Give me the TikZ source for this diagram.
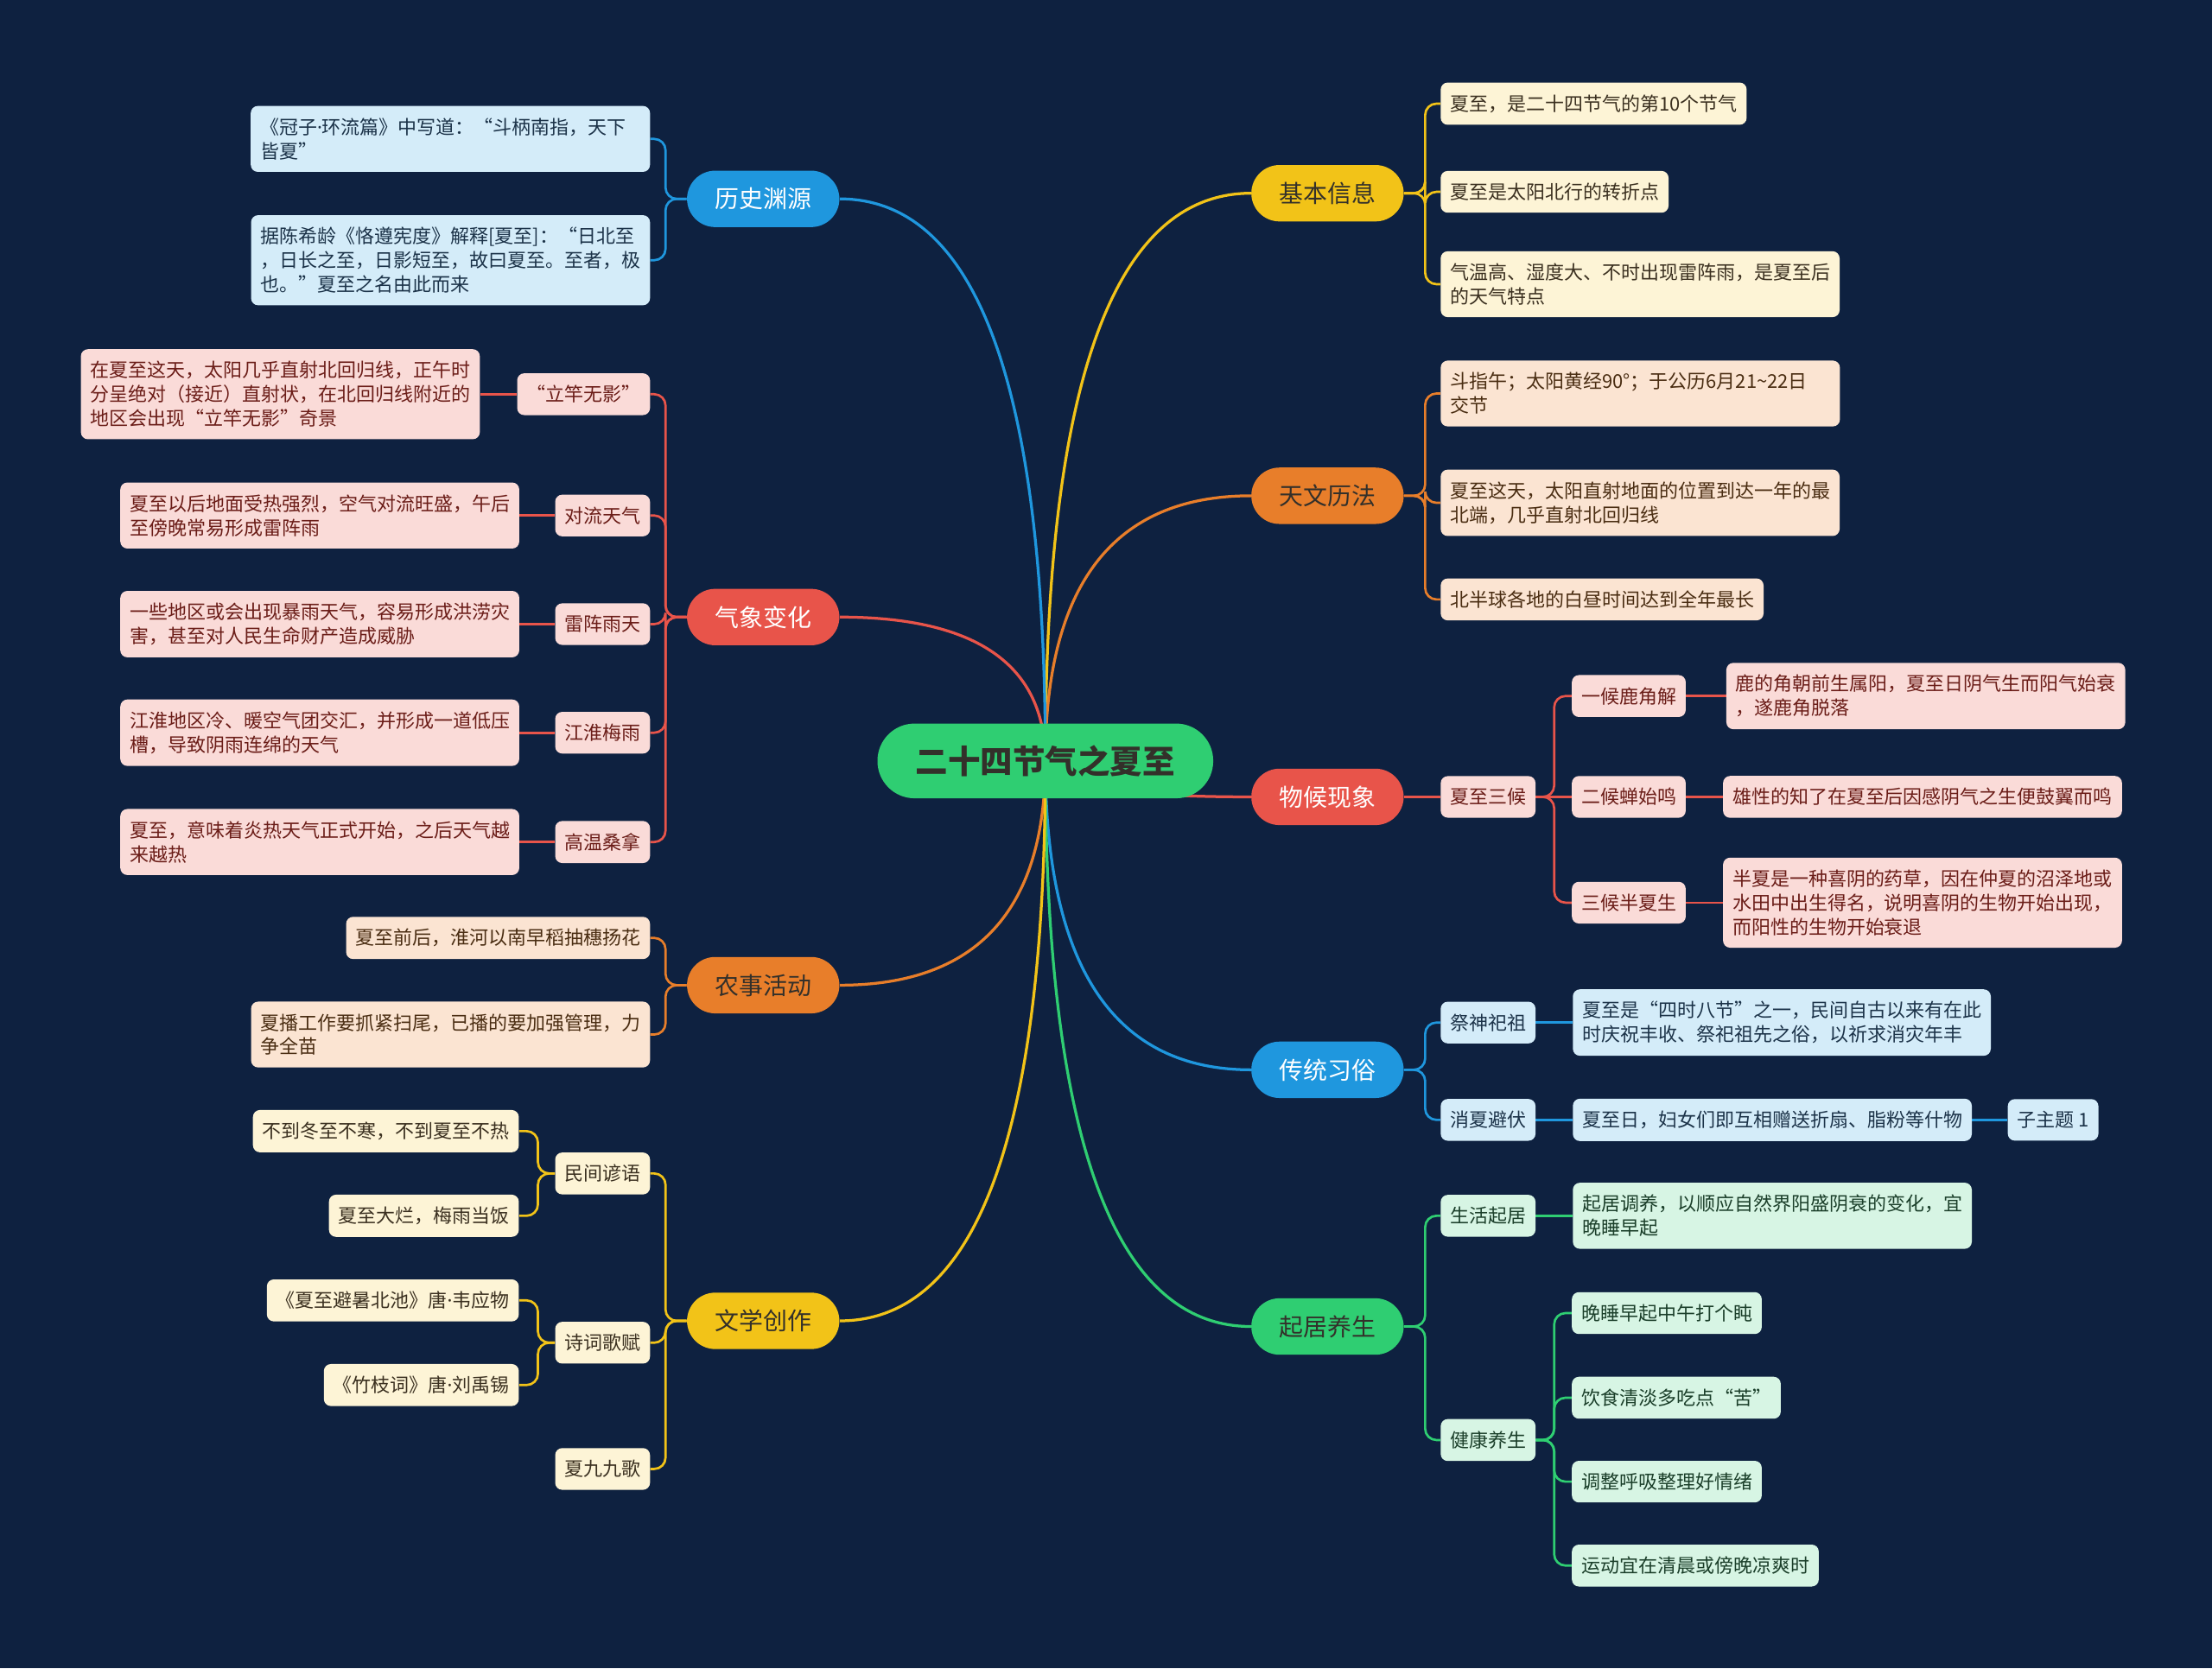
\documentclass[tikz,border=0pt]{standalone}
\usepackage{fontspec}
\setmainfont{Noto Sans CJK SC}
\newfontfamily\latinfont{Noto Sans}
\usetikzlibrary{positioning,calc}

\definecolor{navy}{HTML}{0E2140}
\definecolor{cblue}{HTML}{1F97DE}
\definecolor{cred}{HTML}{E8544A}
\definecolor{corange}{HTML}{E87E2A}
\definecolor{cyellow}{HTML}{F2C318}
\definecolor{cgreen}{HTML}{2FCE72}
\definecolor{inkdark}{HTML}{33302A}

\newcommand{\mdot}{{\latinfont ·}}

\pgfdeclarelayer{bg}
\pgfsetlayers{bg,main}

\tikzset{
	rootnode/.style={fill=cgreen,text=inkdark,rounded corners=7.9mm,minimum width=71.4mm,minimum height=15.9mm,font=\fontsize{19.6}{22}\selectfont\bfseries},
	mainbranch/.style={rounded corners=6mm,minimum width=32.4mm,minimum height=12mm,font=\fontsize{14.6}{17}\selectfont},
	leafbox/.style={rounded corners=1.5mm,inner xsep=2mm,inner ysep=2.57mm,align=left,font=\fontsize{11.5}{14.6}\selectfont},
	yleaf/.style={leafbox,fill={rgb,255:red,253;green,244;blue,214},text={rgb,255:red,59;green,48;blue,32}},
	oleaf/.style={leafbox,fill={rgb,255:red,251;green,228;blue,210},text={rgb,255:red,74;green,45;blue,18}},
	rleaf/.style={leafbox,fill={rgb,255:red,250;green,219;blue,216},text={rgb,255:red,107;green,29;blue,24}},
	bleaf/.style={leafbox,fill={rgb,255:red,212;green,236;blue,249},text={rgb,255:red,28;green,51;blue,73}},
	gleaf/.style={leafbox,fill={rgb,255:red,215;green,245;blue,228},text={rgb,255:red,27;green,63;blue,42}},
	wire/.style={line width=1.7pt},
	twig/.style={line width=1.4pt,rounded corners=2.4mm},
}

\begin{document}
\begin{tikzpicture}[x=0.3mm,y=-0.3mm]
	\begin{pgfonlayer}{bg}
	\fill[navy] (0,0) rectangle (1568,1183);
	\end{pgfonlayer}
	\useasboundingbox (0,0) rectangle (1568,1183);
	
	%ROOT
	\node[rootnode] (root) at (741,539.5) {二十四节气之夏至};
	
	%RIGHT branches
	\node[mainbranch,fill=cyellow,text=inkdark] (jiben) at (941,137) {基本信息};
	\node[mainbranch,fill=corange,text=inkdark] (tianwen) at (941,351.5) {天文历法};
	\node[mainbranch,fill=cred,text=white] (wuhou) at (941,565) {物候现象};
	\node[mainbranch,fill=cblue,text=white] (xisu) at (941,758.5) {传统习俗};
	\node[mainbranch,fill=cgreen,text=inkdark] (qiju) at (941,940.5) {起居养生};
	
	%LEFT branches
	\node[mainbranch,fill=cblue,text=white] (lishi) at (541,141) {历史渊源};
	\node[mainbranch,fill=cred,text=white] (qixiang) at (541,437.5) {气象变化};
	\node[mainbranch,fill=corange,text=inkdark] (nongshi) at (541,698.5) {农事活动};
	\node[mainbranch,fill=cyellow,text=inkdark] (wenxue) at (541,936.5) {文学创作};
	
	%basic info
	\node[yleaf,anchor=west] (jb1) at (1021,73.5) {夏至，是二十四节气的第10个节气};
	\node[yleaf,anchor=west] (jb2) at (1021,136) {夏至是太阳北行的转折点};
	\node[yleaf,anchor=west] (jb3) at (1021,201.5) {气温高、湿度大、不时出现雷阵雨，是夏至后\\的天气特点};
	
	%astronomy
	\node[oleaf,anchor=west,text width=80.9mm] (tw1) at (1021,279) {斗指午；太阳黄经90°；于公历6月21\textasciitilde22日\\交节};
	\node[oleaf,anchor=west] (tw2) at (1021,356.5) {夏至这天，太阳直射地面的位置到达一年的最\\北端，几乎直射北回归线};
	\node[oleaf,anchor=west] (tw3) at (1021,425) {北半球各地的白昼时间达到全年最长};
	
	%phenology
	\node[rleaf,anchor=west] (sanhou) at (1021,565) {夏至三候};
	\node[rleaf,anchor=west] (hou1) at (1114,493.5) {一候鹿角解};
	\node[rleaf,anchor=west] (hou2) at (1114,565) {二候蝉始鸣};
	\node[rleaf,anchor=west] (hou3) at (1114,640) {三候半夏生};
	\node[rleaf,right=8.5mm of hou1] (hou1t) {鹿的角朝前生属阳，夏至日阴气生而阳气始衰\\，遂鹿角脱落};
	\node[rleaf,right=7.8mm of hou2] (hou2t) {雄性的知了在夏至后因感阴气之生便鼓翼而鸣};
	\node[rleaf,right=7.8mm of hou3] (hou3t) {半夏是一种喜阴的药草，因在仲夏的沼泽地或\\水田中出生得名，说明喜阴的生物开始出现，\\而阳性的生物开始衰退};
	
	%customs
	\node[bleaf,anchor=west] (jisi) at (1021,725) {祭神祀祖};
	\node[bleaf,anchor=west] (xiaoxia) at (1021,794) {消夏避伏};
	\node[bleaf,right=7.8mm of jisi] (jisit) {夏至是“四时八节”之一，民间自古以来有在此\\时庆祝丰收、祭祀祖先之俗，以祈求消灾年丰};
	\node[bleaf,right=7.8mm of xiaoxia] (xiaoxiat) {夏至日，妇女们即互相赠送折扇、脂粉等什物};
	\node[bleaf,anchor=west] (zizhuti) at (1423,794) {子主题 1};
	
	%daily life
	\node[gleaf,anchor=west] (shenghuo) at (1021,862) {生活起居};
	\node[gleaf,anchor=west] (jiankang) at (1021,1021) {健康养生};
	\node[gleaf,right=7.8mm of shenghuo] (shenghuot) {起居调养，以顺应自然界阳盛阴衰的变化，宜\\晚睡早起};
	\node[gleaf,anchor=west] (jk1) at (1114,931) {晚睡早起中午打个盹};
	\node[gleaf,anchor=west] (jk2) at (1114,991) {饮食清淡多吃点“苦”};
	\node[gleaf,anchor=west] (jk3) at (1114,1050.5) {调整呼吸整理好情绪};
	\node[gleaf,anchor=west] (jk4) at (1114,1110) {运动宜在清晨或傍晚凉爽时};
	
	%history
	\node[bleaf,anchor=east,text width=80.9mm] (ls1) at (461,98.5) {《冠子\mdot 环流篇》中写道：“斗柄南指，天下\\皆夏”};
	\node[bleaf,anchor=east] (ls2) at (461,184.5) {据陈希龄《恪遵宪度》解释[夏至]：“日北至\\，日长之至，日影短至，故曰夏至。至者，极\\也。”夏至之名由此而来};
	
	%weather
	\node[rleaf,anchor=east] (ligan) at (461,279.5) {“立竿无影”};
	\node[rleaf,anchor=east] (duiliu) at (461,365.5) {对流天气};
	\node[rleaf,anchor=east] (leizhen) at (461,442.5) {雷阵雨天};
	\node[rleaf,anchor=east] (jianghuai) at (461,519.5) {江淮梅雨};
	\node[rleaf,anchor=east] (gaowen) at (461,597) {高温桑拿};
	\node[rleaf,left=7.8mm of ligan] (ligant) {在夏至这天，太阳几乎直射北回归线，正午时\\分呈绝对（接近）直射状，在北回归线附近的\\地区会出现“立竿无影”奇景};
	\node[rleaf,left=7.5mm of duiliu] (duiliut) {夏至以后地面受热强烈，空气对流旺盛，午后\\至傍晚常易形成雷阵雨};
	\node[rleaf,left=7.5mm of leizhen] (leizhent) {一些地区或会出现暴雨天气，容易形成洪涝灾\\害，甚至对人民生命财产造成威胁};
	\node[rleaf,left=7.5mm of jianghuai] (jianghuait) {江淮地区冷、暖空气团交汇，并形成一道低压\\槽，导致阴雨连绵的天气};
	\node[rleaf,left=7.5mm of gaowen] (gaowent) {夏至，意味着炎热天气正式开始，之后天气越\\来越热};
	
	%farming
	\node[oleaf,anchor=east] (ns1) at (461,665) {夏至前后，淮河以南早稻抽穗扬花};
	\node[oleaf,anchor=east] (ns2) at (461,733.5) {夏播工作要抓紧扫尾，已播的要加强管理，力\\争全苗};
	
	%literature
	\node[yleaf,anchor=east] (yanyu) at (461,832) {民间谚语};
	\node[yleaf,anchor=east] (shici) at (461,952) {诗词歌赋};
	\node[yleaf,anchor=east] (jiujiu) at (461,1041.5) {夏九九歌};
	\node[yleaf,anchor=east] (yy1) at (368,802) {不到冬至不寒，不到夏至不热};
	\node[yleaf,anchor=east] (yy2) at (368,862) {夏至大烂，梅雨当饭};
	\node[yleaf,anchor=east] (sc1) at (368,922) {《夏至避暑北池》唐\mdot 韦应物};
	\node[yleaf,anchor=east] (sc2) at (368,982) {《竹枝词》唐\mdot 刘禹锡};
	
	%CONNECTORS
	\begin{pgfonlayer}{bg}
	\foreach \b/\c in {jiben/cyellow,tianwen/corange,wuhou/cred,xisu/cblue,qiju/cgreen}
		\draw[wire,\c] (root.center) .. controls ($(root.center)!0.667!(root.center |- \b.west)$) and ($(\b.west)!0.667!(root.center |- \b.west)$) .. (\b.west);
	\foreach \b/\c in {lishi/cblue,qixiang/cred,nongshi/corange,wenxue/cyellow}
		\draw[wire,\c] (root.center) .. controls ($(root.center)!0.667!(root.center |- \b.east)$) and ($(\b.east)!0.667!(root.center |- \b.east)$) .. (\b.east);
	%
	\foreach \k in {jb1,jb2,jb3} \draw[twig,cyellow] (jiben.east) -- ++(15,0) |- (\k.west);
	\foreach \k in {tw1,tw2,tw3} \draw[twig,corange] (tianwen.east) -- ++(15,0) |- (\k.west);
	\draw[twig,cred] (wuhou.east) -- (sanhou.west);
	\foreach \k in {hou1,hou3} \draw[twig,cred] (sanhou.east) -- ++(13,0) |- (\k.west);
	\draw[twig,cred] (sanhou.east) -- (hou2.west);
	\foreach \k in {hou1,hou2,hou3} \draw[twig,cred] (\k.east) -- (\k t.west);
	\foreach \k in {jisi,xiaoxia} {
		\draw[twig,cblue] (xisu.east) -- ++(15,0) |- (\k.west);
		\draw[twig,cblue] (\k.east) -- (\k t.west);
	}
	\draw[twig,cblue] (xiaoxiat.east) -- (zizhuti.west);
	\foreach \k in {shenghuo,jiankang} \draw[twig,cgreen] (qiju.east) -- ++(15,0) |- (\k.west);
	\draw[twig,cgreen] (shenghuo.east) -- (shenghuot.west);
	\foreach \k in {jk1,jk2,jk3,jk4} \draw[twig,cgreen] (jiankang.east) -- ++(13,0) |- (\k.west);
	%
	\foreach \k in {ls1,ls2} \draw[twig,cblue] (lishi.west) -- ++(-15,0) |- (\k.east);
	\foreach \k in {ligan,duiliu,leizhen,jianghuai,gaowen} {
		\draw[twig,cred] (qixiang.west) -- ++(-15,0) |- (\k.east);
		\draw[twig,cred] (\k.west) -- (\k t.east);
	}
	\foreach \k in {ns1,ns2} \draw[twig,corange] (nongshi.west) -- ++(-15,0) |- (\k.east);
	\foreach \k in {yanyu,shici,jiujiu} \draw[twig,cyellow] (wenxue.west) -- ++(-15,0) |- (\k.east);
	\foreach \k in {yy1,yy2} \draw[twig,cyellow] (yanyu.west) -- ++(-12,0) |- (\k.east);
	\foreach \k in {sc1,sc2} \draw[twig,cyellow] (shici.west) -- ++(-12,0) |- (\k.east);
	\end{pgfonlayer}
\end{tikzpicture}
\end{document}
